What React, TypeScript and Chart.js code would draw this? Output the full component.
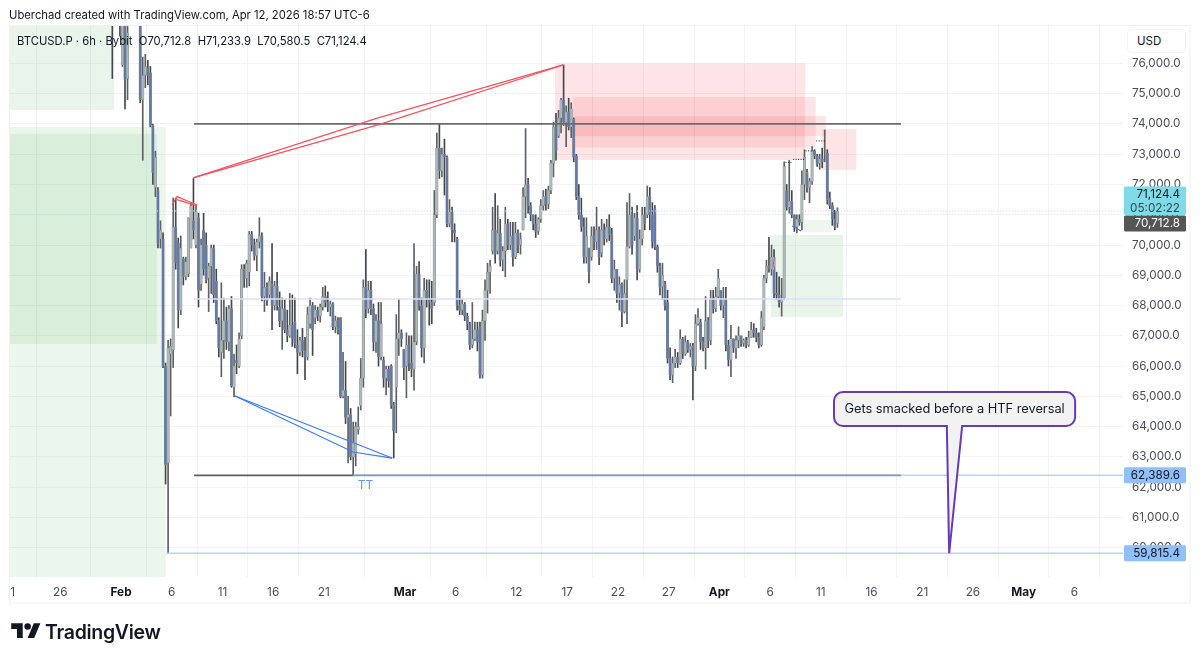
import React, { useEffect, useRef } from 'react';
import { Chart, registerables } from 'chart.js';

Chart.register(...registerables);

const FONT = 'Inter, "Noto Sans", sans-serif';

// 6h candles, prices in thousands of USD
const firstBarDay = 31.14; // day of year, Jan 31 evening
const barStep = 0.25;

const opens = [
  77.9, 77.6, 77.8, 77.5, 75.95, 77.3, 75.5, 77.8, 78.2, 78.6,
  78.3, 77.8, 74.8, 75.6, 75.85, 75.7, 73.95, 71.9, 71.8, 70.2,
  70.2, 66.0, 62.8, 66.4, 66.53, 70.6, 70.07, 67.85, 69.55, 68.95,
  69.05, 69.9, 70.8, 70.0, 70.9, 68.7, 70.5, 70.0, 68.9, 69.3,
  69.9, 68.8, 67.5, 66.45, 66.85, 67.5, 66.8, 67.9, 65.3, 66.2,
  66.0, 67.0, 69.2, 68.9, 69.1, 70.35, 70.0, 69.65, 70.1, 70.3,
  68.3, 68.6, 68.35, 68.7, 68.0, 68.65, 67.95, 67.5, 67.9, 67.2,
  67.0, 67.35, 67.45, 66.7, 66.45, 66.85, 66.5, 66.3, 67.4, 68.0,
  67.6, 67.85, 67.65, 67.95, 68.3, 68.1, 67.95, 68.05, 67.3, 67.5,
  67.6, 65.0, 65.2, 64.3, 64.4, 63.0, 63.1, 63.9, 64.7, 65.6,
  68.6, 67.9, 68.5, 67.9, 66.8, 67.5, 66.3, 66.2, 65.6, 65.9,
  66.0, 64.7, 65.3, 66.9, 67.1, 66.55, 66.0, 66.7, 66.1, 65.9,
  66.8, 69.05, 68.0, 66.6, 68.5, 68.2, 68.1, 68.1, 71.0, 73.2,
  72.45, 73.0, 72.9, 70.7, 71.1, 70.5, 70.2, 68.0, 67.85, 68.05,
  67.65, 67.4, 66.7, 66.9, 67.2, 67.3, 65.7, 67.5, 68.5, 69.1,
  69.8, 70.5, 69.8, 70.4, 69.5, 69.8, 70.7, 70.0, 70.3, 69.6,
  70.4, 70.0, 70.5, 71.6, 72.0, 71.3, 71.0, 70.7, 70.45, 70.85,
  71.3, 71.6, 71.35, 71.8, 72.7, 73.9, 73.6, 74.2, 74.8, 74.05,
  74.4, 73.9, 74.15, 72.95, 71.6, 71.0, 70.6, 69.6, 69.9, 69.6,
  70.3, 70.1, 70.5, 69.75, 70.5, 70.2, 70.6, 70.35, 68.9, 69.2,
  68.4, 68.7, 67.8, 68.85, 69.95, 71.0, 70.3, 70.9, 69.2, 70.2,
  71.0, 71.0, 71.6, 71.0, 71.2, 69.95, 69.3, 68.6, 68.7, 68.1,
  66.25, 65.7, 66.1, 66.3, 66.1, 66.9, 66.4, 66.8, 66.55, 66.65,
  66.0, 67.4, 67.45, 66.8, 66.6, 67.5, 66.85, 68.2, 67.9, 68.3,
  68.5, 68.0, 68.2, 66.7, 66.2, 66.9, 66.6, 66.85, 67.0, 66.75,
  66.85, 66.7, 66.95, 67.2, 67.1, 66.95, 66.7, 67.3, 68.9, 69.3,
  69.2, 69.6, 68.4, 68.35, 68.1, 68.25, 71.8, 71.25, 71.45, 71.0,
  70.6, 70.85, 70.75, 72.0, 72.4, 71.9, 72.1, 73.1, 72.95, 72.7,
  72.85, 73.0, 73.05, 71.55, 71.3, 70.85, 70.71,
];

const highs = [
  78.2, 78.0, 78.1, 78.0, 77.6, 77.6, 77.5, 78.4, 78.9, 79.0,
  78.6, 78.1, 76.2, 76.3, 76.1, 75.9, 74.0, 73.1, 71.9, 70.8,
  70.4, 66.1, 66.85, 66.9, 71.55, 71.55, 70.23, 70.3, 69.6, 69.6,
  70.9, 71.4, 72.2, 71.32, 71.05, 70.2, 71.05, 70.4, 69.4, 70.0,
  70.0, 69.2, 67.6, 68.75, 68.25, 67.95, 68.0, 68.3, 66.4, 66.7,
  67.1, 69.35, 69.35, 69.5, 70.45, 70.45, 70.2, 70.2, 70.9, 70.4,
  69.1, 68.75, 68.95, 70.05, 68.8, 69.1, 68.45, 68.25, 68.2, 67.85,
  68.4, 68.35, 68.25, 67.2, 66.95, 67.25, 66.95, 67.95, 68.25, 68.1,
  68.0, 67.95, 68.05, 68.6, 68.65, 68.45, 68.15, 68.1, 67.65, 67.6,
  67.6, 66.45, 66.15, 65.0, 64.6, 64.15, 64.15, 64.65, 66.25, 68.85,
  69.85, 68.8, 68.8, 68.05, 67.7, 68.1, 68.1, 66.3, 66.0, 66.0,
  66.05, 64.8, 67.7, 68.2, 67.2, 66.55, 67.1, 67.0, 67.0, 70.05,
  69.3, 69.45, 68.25, 68.9, 68.85, 68.85, 68.8, 71.8, 73.7, 74.0,
  73.2, 73.5, 72.95, 71.5, 71.25, 70.7, 70.25, 68.5, 68.2, 68.1,
  67.75, 67.45, 68.1, 67.45, 67.45, 67.45, 67.85, 68.85, 69.4, 69.5,
  71.25, 71.7, 71.3, 70.85, 69.95, 71.25, 70.85, 70.75, 70.75, 70.75,
  70.5, 70.4, 71.9, 73.85, 72.2, 71.4, 71.0, 71.0, 70.9, 71.5,
  71.8, 71.85, 71.95, 72.8, 74.05, 74.35, 74.45, 74.85, 75.95, 74.6,
  74.85, 74.7, 74.2, 73.0, 72.0, 71.55, 70.9, 70.9, 69.9, 70.6,
  70.6, 71.25, 70.6, 70.85, 70.7, 70.85, 71.0, 70.55, 69.5, 69.2,
  68.95, 68.75, 68.85, 71.4, 71.7, 71.25, 71.05, 71.3, 70.5, 71.25,
  71.25, 71.95, 71.9, 71.4, 71.3, 70.0, 69.4, 69.4, 68.8, 68.5,
  66.6, 66.3, 66.55, 66.45, 67.2, 66.95, 67.0, 66.85, 66.75, 66.75,
  67.7, 67.9, 67.55, 66.95, 68.3, 67.6, 68.5, 68.5, 68.6, 69.2,
  68.5, 68.6, 68.6, 66.85, 67.35, 66.9, 67.0, 67.3, 67.0, 66.9,
  66.95, 67.15, 67.45, 67.4, 67.25, 67.1, 67.8, 69.0, 69.5, 70.25,
  70.0, 69.85, 69.1, 68.95, 68.9, 72.75, 72.0, 72.8, 71.8, 71.0,
  71.0, 71.0, 72.45, 73.15, 72.5, 72.2, 73.25, 73.15, 73.0, 73.0,
  73.2, 73.8, 73.15, 71.75, 71.4, 71.15, 71.23,
];

const lows = [
  75.5, 77.4, 77.4, 76.9, 75.9, 74.5, 74.8, 77.4, 77.9, 78.1,
  77.6, 74.7, 72.8, 75.2, 75.3, 73.9, 72.0, 71.6, 69.9, 69.9,
  65.95, 62.1, 59.82, 64.35, 65.95, 69.2, 67.26, 67.7, 68.68, 68.85,
  68.95, 69.9, 70.2, 69.9, 67.95, 68.5, 69.0, 68.75, 67.8, 68.4,
  68.1, 67.4, 66.3, 65.65, 66.25, 66.55, 66.5, 65.3, 64.98, 65.75,
  65.95, 66.9, 68.6, 68.6, 68.65, 69.8, 69.5, 69.15, 69.9, 68.15,
  67.8, 68.0, 68.25, 67.2, 67.85, 67.85, 67.3, 66.55, 67.1, 66.8,
  66.95, 66.65, 66.6, 65.75, 66.35, 66.3, 65.55, 66.2, 67.25, 66.35,
  67.4, 67.5, 67.45, 67.85, 67.95, 67.8, 67.65, 67.2, 67.1, 67.05,
  64.95, 64.95, 64.1, 62.8, 62.9, 62.39, 62.7, 63.75, 64.55, 65.3,
  67.6, 67.75, 67.7, 66.5, 66.45, 66.0, 66.2, 65.3, 65.05, 65.3,
  64.6, 62.96, 63.8, 66.35, 66.65, 65.55, 64.95, 65.85, 65.65, 65.2,
  66.7, 67.85, 66.3, 66.1, 67.95, 67.35, 67.4, 68.0, 70.9, 72.2,
  72.25, 71.65, 70.6, 70.6, 70.1, 70.1, 67.85, 67.7, 67.7, 67.5,
  67.2, 66.55, 66.6, 66.85, 66.5, 65.6, 65.6, 66.85, 67.75, 68.4,
  69.7, 69.4, 69.7, 69.3, 69.15, 68.95, 69.85, 69.85, 69.3, 69.55,
  69.75, 69.7, 70.5, 70.9, 71.05, 70.8, 70.5, 70.25, 70.35, 70.75,
  71.15, 71.15, 71.2, 71.7, 72.25, 72.8, 73.55, 73.7, 73.95, 73.25,
  73.8, 73.55, 72.75, 71.5, 70.85, 70.45, 69.4, 69.4, 68.75, 69.5,
  69.85, 69.85, 69.35, 69.6, 70.0, 70.1, 70.15, 68.75, 68.5, 68.1,
  67.85, 67.3, 67.75, 67.4, 69.9, 69.7, 70.15, 68.85, 69.1, 70.0,
  70.5, 70.9, 70.5, 69.9, 69.85, 69.1, 68.35, 68.2, 67.85, 66.1,
  65.55, 65.45, 65.95, 65.95, 66.05, 66.25, 66.35, 66.45, 66.3, 64.88,
  65.85, 67.35, 66.55, 66.5, 65.9, 66.6, 66.7, 67.75, 67.8, 68.25,
  67.85, 67.6, 66.5, 66.0, 65.65, 66.45, 66.25, 66.6, 66.65, 66.65,
  66.6, 66.65, 66.95, 66.95, 66.8, 66.6, 66.65, 67.2, 68.75, 69.1,
  69.0, 68.25, 68.2, 67.95, 67.65, 68.2, 71.15, 71.05, 70.9, 70.45,
  70.4, 70.65, 70.5, 71.5, 71.75, 71.4, 72.0, 72.85, 72.6, 72.5,
  72.55, 72.75, 71.35, 71.2, 70.65, 70.5, 70.58,
];

const closes = [
  77.6, 77.8, 77.5, 77.3, 77.3, 75.45, 77.0, 78.2, 78.6, 78.3,
  77.8, 74.8, 75.6, 75.9, 75.6, 73.95, 72.4, 72.9, 70.05, 70.5,
  66.0, 62.75, 66.6, 66.65, 70.6, 69.4, 67.85, 69.9, 68.95, 69.45,
  70.9, 71.3, 70.5, 71.1, 68.5, 70.0, 69.2, 68.85, 69.3, 69.9,
  68.35, 67.5, 66.6, 66.85, 67.5, 66.8, 67.9, 65.35, 66.0, 66.1,
  66.9, 69.2, 68.9, 69.4, 70.35, 70.0, 69.65, 70.1, 70.3, 68.3,
  68.6, 68.15, 68.8, 68.0, 68.65, 68.0, 67.5, 67.9, 67.2, 67.0,
  67.35, 66.9, 66.75, 66.45, 66.85, 66.5, 66.3, 67.7, 68.0, 67.2,
  67.85, 67.65, 67.95, 68.3, 68.1, 67.95, 68.05, 67.3, 67.5, 67.2,
  65.0, 65.2, 64.3, 64.4, 63.0, 63.5, 64.0, 64.0, 65.6, 68.6,
  67.9, 68.5, 67.9, 66.8, 67.5, 66.3, 67.4, 65.6, 65.9, 65.5,
  64.7, 63.85, 66.9, 67.1, 66.9, 65.95, 66.7, 66.1, 65.9, 66.8,
  69.05, 68.0, 66.6, 68.5, 68.2, 68.1, 67.9, 71.0, 73.2, 72.45,
  73.0, 72.9, 70.7, 71.1, 70.5, 70.4, 68.0, 67.85, 68.05, 67.65,
  67.4, 66.7, 66.9, 67.2, 66.8, 65.7, 67.5, 68.5, 69.1, 69.3,
  70.5, 69.7, 70.4, 69.5, 69.8, 70.7, 70.0, 70.3, 69.6, 70.4,
  70.0, 70.2, 71.6, 72.0, 71.3, 71.0, 70.7, 70.45, 70.85, 71.3,
  71.6, 71.35, 71.8, 72.7, 73.9, 73.1, 74.2, 74.8, 74.05, 74.4,
  73.9, 74.5, 72.9, 71.6, 71.0, 70.6, 69.6, 70.3, 69.1, 70.3,
  70.1, 70.5, 69.6, 70.5, 70.2, 70.6, 70.35, 68.9, 69.2, 68.4,
  68.7, 67.8, 68.4, 69.95, 71.0, 70.0, 70.9, 69.2, 70.2, 71.0,
  70.7, 71.6, 71.0, 70.1, 69.95, 69.3, 68.6, 69.0, 68.0, 66.25,
  65.7, 66.1, 66.3, 66.1, 66.9, 66.4, 66.8, 66.55, 66.65, 66.0,
  67.4, 67.6, 66.8, 66.6, 67.5, 66.85, 68.2, 67.9, 68.3, 68.9,
  68.0, 68.2, 66.7, 66.2, 66.9, 66.6, 66.85, 67.0, 66.75, 66.85,
  66.7, 66.95, 67.2, 67.1, 66.95, 66.7, 67.6, 68.9, 69.3, 69.2,
  69.6, 68.4, 68.35, 68.1, 68.2, 72.6, 71.25, 71.45, 71.0, 70.6,
  70.85, 70.75, 72.0, 72.9, 71.9, 72.1, 73.1, 72.95, 72.7, 72.85,
  72.75, 73.0, 71.5, 71.3, 70.85, 70.6, 71.12,
];

// x axis: day of year, labels as printed under the chart
const tickDays = [21.3, 26, 32, 37, 42, 47, 52, 60, 65, 71, 76, 81, 86, 91, 96, 101, 106, 111, 116, 121, 126];
const tickLabels = ['1', '26', 'Feb', '6', '11', '16', '21', 'Mar', '6', '12', '17', '22', '27', 'Apr', '6', '11', '16', '21', '26', 'May', '6'];
const boldLabels = ['Feb', 'Mar', 'Apr', 'May'];

const axisLeftDay = 21.05;
const axisRightDay = 130.8;
const axisTopPrice = 77.27;
const axisBottomPrice = 59.03;

// zones: start day, end day, top price, bottom price
const zoneStarts = [21.05, 21.05, 21.05, 96.07, 99.23, 74.8, 76.58, 76.77, 101.1];
const zoneEnds = [31.31, 36.41, 35.55, 103.2, 102.09, 99.46, 100.5, 101.5, 104.5];
const zoneTops = [77.27, 73.9, 73.67, 70.33, 70.83, 76.0, 74.89, 74.26, 73.83];
const zoneBottoms = [74.46, 59.03, 66.73, 67.62, 70.43, 72.81, 73.22, 73.6, 72.48];
const zoneColors = [
  'rgba(76,175,80,0.12)', 'rgba(76,175,80,0.11)', 'rgba(76,175,80,0.11)',
  'rgba(76,175,80,0.12)', 'rgba(76,175,80,0.10)',
  'rgba(242,54,69,0.13)', 'rgba(242,54,69,0.13)', 'rgba(242,54,69,0.13)', 'rgba(242,54,69,0.13)',
];

// drawn lines
const redUpperDays = [39.1, 57.34, 75.6];
const redUpperPrices = [72.22, 74.2, 75.95];
const redLowerDays = [39.1, 57.34, 75.6];
const redLowerPrices = [72.22, 73.97, 75.95];
const redSmallUpperDays = [37.03, 37.52, 39.5];
const redSmallUpperPrices = [71.32, 71.6, 71.32];
const redSmallLowerDays = [37.52, 39.4];
const redSmallLowerPrices = [71.5, 71.3];
const redArcDays = [96.3, 96.45, 96.3];
const redArcPrices = [69.6, 69.4, 69.17];
const blueUpperDays = [43.24, 58.73];
const blueUpperPrices = [65.01, 62.96];
const blueLowerDays = [43.24, 54.88, 58.73];
const blueLowerPrices = [65.01, 63.16, 62.96];
const blueSmallDays = [98.17, 99.06];
const blueSmallPrices = [70.63, 70.46];

const stepDays = [[97.52, 98.2], [98.27, 99.5], [99.5, 100.3], [100.55, 101.45]];
const stepPrices = [72.73, 72.83, 73.11, 73.44];

const lastPrice = 71.1244;
const openPrice = 70.7128;
const levelHigh = 74.0;
const levelMid = 68.22;
const levelTakeProfit = 62.3896;
const levelStop = 59.8154;
const levelStartDay = 39.2;
const levelEndDay = 108.9;
const levelSplitDay = 54.9;
const stopStartDay = 36.45;

// callout on the right
const calloutText = 'Gets smacked before a HTF reversal';
const calloutLeftDay = 102.3;
const calloutRightDay = 126.08;
const calloutTopPrice = 65.14;
const calloutBottomPrice = 64.02;
const calloutPointerLeft = 113.43;
const calloutPointerRight = 114.94;
const calloutTipDay = 113.66;

const days = opens.map((_, i) => firstBarDay + i * barStep);

const segment = (xs: number[], ys: number[], color: string, width: number, dash: number[] = []) => ({
  type: 'line' as const,
  data: xs.map((x, i) => ({ x, y: ys[i] })),
  borderColor: color,
  borderWidth: width,
  borderDash: dash,
  pointRadius: 0,
  tension: 0,
  order: 0,
});

const money = (v: number) => (v * 1000).toLocaleString('en-US', { minimumFractionDigits: 1, maximumFractionDigits: 1 });

const overlayPlugin = {
  id: 'overlay',
  beforeDatasetsDraw(chart: any) {
    const { ctx, scales: { x, y }, chartArea } = chart;
    ctx.save();
    ctx.beginPath();
    ctx.rect(chartArea.left, chartArea.top, chartArea.right - chartArea.left, chartArea.bottom - chartArea.top);
    ctx.clip();
    zoneStarts.forEach((start, i) => {
      const left = x.getPixelForValue(start);
      const top = y.getPixelForValue(zoneTops[i]);
      ctx.fillStyle = zoneColors[i];
      ctx.fillRect(left, top, x.getPixelForValue(zoneEnds[i]) - left, y.getPixelForValue(zoneBottoms[i]) - top);
    });
    ctx.restore();
  },
  afterDraw(chart: any) {
    const { ctx, scales: { x, y }, chartArea } = chart;
    ctx.save();

    // "TT" under the double bottom
    ctx.font = `12px ${FONT}`;
    ctx.fillStyle = '#5b9cf6';
    ctx.textAlign = 'center';
    ctx.textBaseline = 'middle';
    ctx.fillText('TT', x.getPixelForValue(56.1), y.getPixelForValue(62.07));

    // callout with pointer
    const l = x.getPixelForValue(calloutLeftDay);
    const r = x.getPixelForValue(calloutRightDay);
    const t = y.getPixelForValue(calloutTopPrice);
    const b = y.getPixelForValue(calloutBottomPrice);
    const rad = 9;
    ctx.beginPath();
    ctx.moveTo(l + rad, t);
    ctx.arcTo(r, t, r, b, rad);
    ctx.arcTo(r, b, l, b, rad);
    ctx.lineTo(x.getPixelForValue(calloutPointerRight), b);
    ctx.lineTo(x.getPixelForValue(calloutTipDay), y.getPixelForValue(levelStop));
    ctx.lineTo(x.getPixelForValue(calloutPointerLeft), b);
    ctx.arcTo(l, b, l, t, rad);
    ctx.arcTo(l, t, r, t, rad);
    ctx.closePath();
    ctx.fillStyle = '#f2f2f2';
    ctx.fill();
    ctx.strokeStyle = '#673ab7';
    ctx.lineWidth = 2;
    ctx.stroke();
    ctx.font = `12.8px ${FONT}`;
    ctx.fillStyle = '#131722';
    ctx.fillText(calloutText, (l + r) / 2, (t + b) / 2 + 0.5);

    // price tags on the axis
    const tagLeft = chartArea.right + 1;
    const tagWidth = 62;
    const tag = (top: number, h: number, color: string) => {
      ctx.fillStyle = color;
      ctx.beginPath();
      ctx.roundRect(tagLeft, top, tagWidth, h, 1.5);
      ctx.fill();
    };
    const label = (text: string, cy: number, color: string) => {
      ctx.font = `11.7px ${FONT}`;
      ctx.fillStyle = color;
      ctx.textAlign = 'right';
      ctx.fillText(text, tagLeft + 56, cy);
    };
    const lastY = y.getPixelForValue(lastPrice);
    tag(lastY - 24.5, 28.5, '#7fdbe8');
    label(money(lastPrice), lastY - 16.5, '#131722');
    label('05:02:22', lastY - 3, '#2a4a50');
    const openY = y.getPixelForValue(openPrice);
    tag(openY - 8, 16, '#555555');
    label(money(openPrice), openY, '#ffffff');
    [levelTakeProfit, levelStop].forEach((price) => {
      const cy = y.getPixelForValue(price);
      tag(cy - 8, 16, '#90bff9');
      label(money(price), cy, '#131722');
    });

    // frame around the panel
    ctx.strokeStyle = '#f0f1f4';
    ctx.lineWidth = 1;
    ctx.strokeRect(9.5, 25.5, 1180.5, 577.5);
    ctx.restore();
  },
};

const App: React.FC = () => {
  const canvasRef = useRef<HTMLCanvasElement>(null);

  useEffect(() => {
    if (!canvasRef.current) return;
    document.body.style.margin = '0';

    const bull = '#adb8b8';
    const bear = '#6279a8';
    const wickColors = opens.map((o, i) => (closes[i] >= o ? '#5d6164' : '#45484b'));
    const bodyColors = opens.map((o, i) => (closes[i] >= o ? bull : bear));

    const chart = new Chart(canvasRef.current, {
      type: 'bar',
      data: {
        // on equal order the earlier dataset ends up on top
        datasets: [
          segment(redUpperDays, redUpperPrices, '#f7525f', 1.2),
          segment(redLowerDays, redLowerPrices, '#f7525f', 1.2),
          segment(redSmallUpperDays, redSmallUpperPrices, '#f7525f', 1.2),
          segment(redSmallLowerDays, redSmallLowerPrices, '#f7525f', 1.2),
          segment(redArcDays, redArcPrices, '#f7a0a8', 1),
          segment(blueUpperDays, blueUpperPrices, '#3b78ff', 1.2),
          segment(blueLowerDays, blueLowerPrices, '#3b78ff', 1.2),
          segment(blueSmallDays, blueSmallPrices, '#3b78ff', 1.2),
          segment(stepDays[0], [stepPrices[0], stepPrices[0]], '#222222', 1, [1, 1.5]),
          segment(stepDays[1], [stepPrices[1], stepPrices[1]], '#222222', 1, [1, 1.5]),
          segment(stepDays[2], [stepPrices[2], stepPrices[2]], '#222222', 1, [1, 1.5]),
          segment(stepDays[3], [stepPrices[3], stepPrices[3]], '#222222', 1, [1, 1.5]),
          segment([levelStartDay, levelEndDay], [levelHigh, levelHigh], '#6b6b6b', 1.8),
          segment([levelStartDay, levelSplitDay], [levelTakeProfit, levelTakeProfit], '#5f5f5f', 1.8),
          segment([levelSplitDay, levelEndDay], [levelTakeProfit, levelTakeProfit], '#7f99b5', 1.8),
          segment([levelStartDay, levelEndDay], [levelMid, levelMid], '#dcdff8', 1.5),
          segment([levelSplitDay, axisRightDay], [levelTakeProfit, levelTakeProfit], '#b3d4ff', 1.5),
          segment([stopStartDay, axisRightDay], [levelStop, levelStop], '#b3d4ff', 1.5),
          segment([axisLeftDay, axisRightDay], [lastPrice, lastPrice], '#b5ecec', 1, [1, 2]),
          {
            type: 'bar',
            data: days.map((x, i) => ({ x, y: [opens[i], closes[i]] })),
            backgroundColor: bodyColors,
            borderColor: '#8a8f90',
            borderWidth: 0.6,
            borderSkipped: false,
            barThickness: 2.6,
            grouped: false,
            order: 1,
          },
          {
            type: 'bar',
            data: days.map((x, i) => ({ x, y: [lows[i], highs[i]] })),
            backgroundColor: wickColors,
            barThickness: 1,
            grouped: false,
            order: 2,
          },
        ] as any,
      },
      options: {
        animation: false,
        responsive: false,
        layout: { padding: { left: 10, top: 25, right: 10, bottom: 57 } },
        plugins: { legend: { display: false }, tooltip: { enabled: false } },
        scales: {
          x: {
            type: 'linear',
            offset: false,
            min: axisLeftDay,
            max: axisRightDay,
            border: { display: false },
            grid: { color: '#f2f3f5', drawTicks: false },
            afterBuildTicks: (axis: any) => {
              axis.ticks = tickDays.map((value) => ({ value }));
            },
            afterFit: (axis: any) => {
              axis.height = 26;
            },
            ticks: {
              autoSkip: false,
              maxRotation: 0,
              padding: 8,
              color: (ctx: any) => (boldLabels.includes(tickLabels[ctx.index]) ? '#131722' : '#4a4e57'),
              font: (ctx: any) => ({
                family: FONT,
                size: 11.8,
                weight: boldLabels.includes(tickLabels[ctx.index]) ? 'bold' : 'normal',
              }),
              callback: (_v: any, i: number) => tickLabels[i],
            },
          },
          y: {
            type: 'linear',
            position: 'right',
            min: axisBottomPrice,
            max: axisTopPrice,
            border: { display: false },
            grid: { color: '#f2f3f5', drawTicks: false },
            afterBuildTicks: (axis: any) => {
              axis.ticks = [60, 61, 62, 63, 64, 65, 66, 67, 68, 69, 70, 71, 72, 73, 74, 75, 76].map((value) => ({ value }));
            },
            afterFit: (axis: any) => {
              axis.width = 67;
            },
            ticks: {
              autoSkip: false,
              padding: 9,
              color: '#4a4e57',
              font: { family: FONT, size: 11.7 },
              callback: (v: any) => money(Number(v)),
            },
          },
        },
      },
      plugins: [overlayPlugin],
    } as any);

    return () => chart.destroy();
  }, []);

  const overlayText: React.CSSProperties = { position: 'absolute', fontFamily: FONT, color: '#131722', whiteSpace: 'pre' };

  return (
    <div style={{ position: 'relative', width: 1200, height: 660, background: '#fff', overflow: 'hidden' }}>
      <canvas ref={canvasRef} width={1200} height={660} style={{ display: 'block' }} />
      <div style={{ ...overlayText, left: 9, top: 8, fontSize: 11.28 }}>
        Uberchad created with TradingView.com, Apr 12, 2026 18:57 UTC-6
      </div>
      <div style={{ ...overlayText, left: 17, top: 34, fontSize: 11.28 }}>
        {'BTCUSD.P · 6h · Bybit  O70,712.8  H71,233.9  L70,580.5  C71,124.4'}
      </div>
      <div
        style={{
          ...overlayText,
          left: 1127,
          top: 29,
          width: 59,
          height: 24,
          lineHeight: '22px',
          boxSizing: 'border-box',
          paddingLeft: 9,
          fontSize: 11.5,
          background: '#fff',
          border: '1px solid #f2f3f5',
          borderRadius: 4,
        }}
      >
        USD
      </div>
      <svg viewBox="0 0 36 28" width="30" height="23" style={{ position: 'absolute', left: 10.5, top: 620 }}>
        <path d="M14 22H7V11H0V4h14v18zM28 22h-8l7.5-18h8L28 22z" fill="#131722" />
        <circle cx="20" cy="8" r="4" fill="#131722" />
      </svg>
      <div style={{ ...overlayText, left: 45, top: 620, fontSize: 19.5, fontWeight: 600, letterSpacing: -0.3 }}>TradingView</div>
    </div>
  );
};

export default App;
